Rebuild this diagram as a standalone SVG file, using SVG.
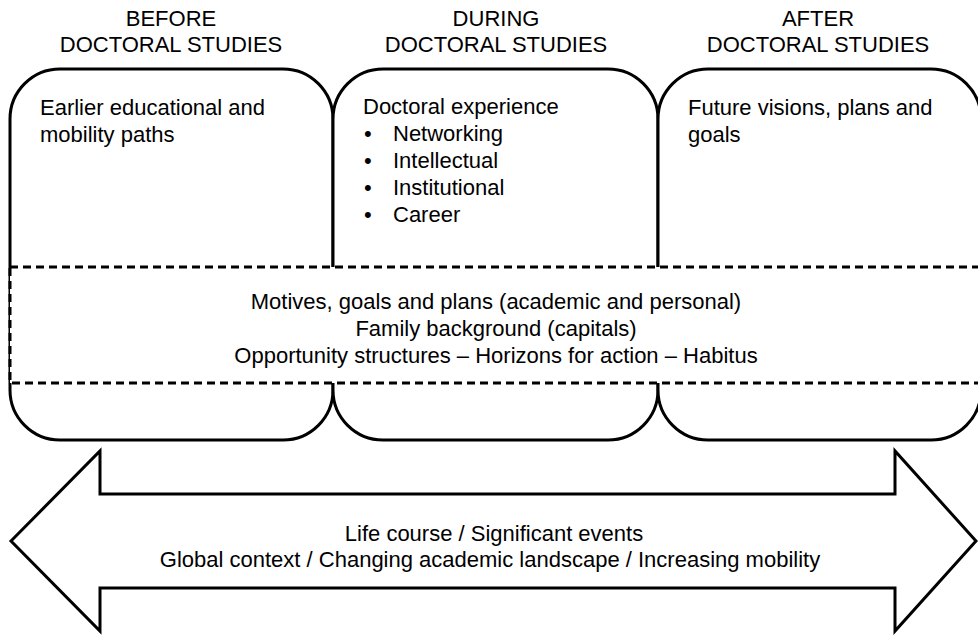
<svg xmlns="http://www.w3.org/2000/svg" width="978" height="636" viewBox="0 0 978 636">
  <style>
    text { font-family: "Liberation Sans", Arial, sans-serif; font-size: 22px; fill: #000; }
    .mid { text-anchor: middle; }
    .box { fill: #fff; stroke: #000; stroke-width: 3; }
    .band { fill: #fff; stroke: #000; stroke-width: 3; stroke-dasharray: 8 5; }
    .arrow { fill: #fff; stroke: #000; stroke-width: 3; stroke-linejoin: miter; }
  </style>
  <rect width="978" height="636" fill="#fff"/>

  <!-- phase headings -->
  <g id="headings">
    <text class="mid" x="171" y="26">BEFORE</text>
    <text class="mid" x="171" y="52">DOCTORAL STUDIES</text>
    <text class="mid" x="496" y="26">DURING</text>
    <text class="mid" x="496" y="52">DOCTORAL STUDIES</text>
    <text class="mid" x="818" y="26">AFTER</text>
    <text class="mid" x="818" y="52">DOCTORAL STUDIES</text>
  </g>

  <!-- phase boxes -->
  <g id="before">
    <rect class="box" x="10" y="69" width="323" height="371" rx="50" ry="50"/>
    <text x="40" y="115">Earlier educational and</text>
    <text x="40" y="142">mobility paths</text>
  </g>
  <g id="during">
    <rect class="box" x="333" y="69" width="325" height="371" rx="50" ry="50"/>
    <text x="363" y="114">Doctoral experience</text>
    <text x="364" y="141">•</text><text x="393" y="141">Networking</text>
    <text x="364" y="168">•</text><text x="393" y="168">Intellectual</text>
    <text x="364" y="195">•</text><text x="393" y="195">Institutional</text>
    <text x="364" y="222">•</text><text x="393" y="222">Career</text>
  </g>
  <g id="after">
    <rect class="box" x="658" y="69" width="323" height="371" rx="50" ry="50"/>
    <text x="688" y="115">Future visions, plans and</text>
    <text x="688" y="142">goals</text>
  </g>

  <!-- cross-cutting band -->
  <g id="band">
    <rect class="band" x="10" y="267" width="974" height="116"/>
    <text class="mid" x="496" y="309">Motives, goals and plans (academic and personal)</text>
    <text class="mid" x="496" y="336">Family background (capitals)</text>
    <text class="mid" x="496" y="363">Opportunity structures – Horizons for action – Habitus</text>
  </g>

  <!-- life course double arrow -->
  <g id="connectors">
    <polygon class="arrow" points="11,541 100,451 100,494 895,494 895,451 976,541 895,631 895,588 100,588 100,631"/>
    <text class="mid" x="494" y="541">Life course / Significant events</text>
    <text class="mid" x="490" y="567">Global context / Changing academic landscape / Increasing mobility</text>
  </g>
</svg>
